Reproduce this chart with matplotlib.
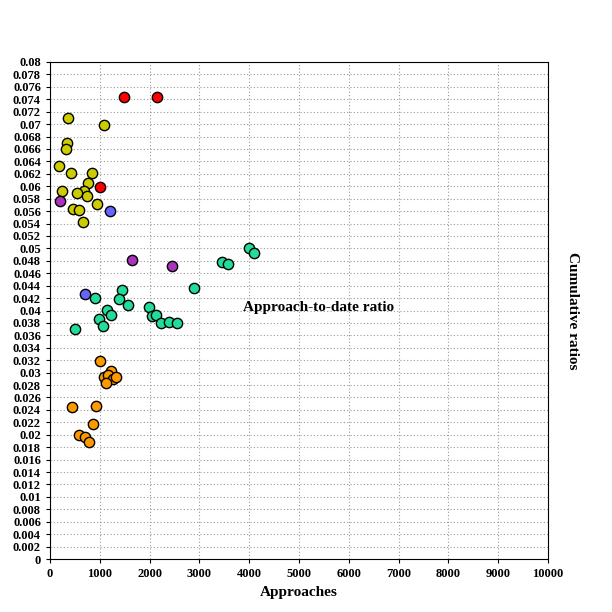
import matplotlib
matplotlib.use("Agg")
import matplotlib.pyplot as plt
import numpy as np

red_x = [1486, 2149, 1004]
red_y = [0.0744, 0.0744, 0.0599]
yel_x = [368, 1091, 347, 315, 174, 428, 850, 770, 234, 683, 535, 750, 944, 468, 589, 656]
yel_y = [0.0710, 0.0699, 0.0669, 0.0660, 0.0632, 0.0621, 0.0621, 0.0606, 0.0593, 0.0593, 0.0589, 0.0584, 0.0572, 0.0564, 0.0561, 0.0542]
pur_x = [201, 1640, 2456]
pur_y = [0.0576, 0.0481, 0.0471]
blu_x = [1211, 703]
blu_y = [0.0560, 0.0427]
teal_x = [4003, 4103, 3447, 3581, 2885, 1452, 904, 1379, 1560, 1988, 1138, 1218, 2054, 2135, 977, 2236, 2383, 2544, 1064, 509]
teal_y = [0.0500, 0.0492, 0.0478, 0.0475, 0.0437, 0.0433, 0.0420, 0.0419, 0.0409, 0.0405, 0.0401, 0.0393, 0.0391, 0.0392, 0.0387, 0.0380, 0.0382, 0.0380, 0.0375, 0.0370]
ora_x = [1004, 1218, 1084, 1171, 1258, 1325, 1124, 448, 930, 857, 582, 703, 783]
ora_y = [0.0318, 0.0302, 0.0293, 0.0296, 0.0290, 0.0293, 0.0283, 0.0245, 0.0246, 0.0218, 0.0200, 0.0197, 0.0188]

plt.rcParams['font.family'] = ['Liberation Serif', 'DejaVu Serif']
fig = plt.figure(figsize=(6.12, 6.12), dpi=100)
ax = fig.add_axes([50/612, 1-559/612, 498/612, 497/612])
for xs, ys, c in [(red_x, red_y, '#ff0000'), (yel_x, yel_y, '#cccc00'), (pur_x, pur_y, '#aa33bb'),
                  (blu_x, blu_y, '#6666ff'), (teal_x, teal_y, '#22dd99'), (ora_x, ora_y, '#ff9900')]:
    ax.scatter(xs, ys, s=55, c=c, edgecolors='black', linewidths=1.0, zorder=3)
ax.set_xlim(0, 10000)
ax.set_ylim(0, 0.08)
ax.set_xticks(np.arange(0, 10001, 1000))
yt = np.round(np.arange(0, 0.0801, 0.002), 3)
ax.set_yticks(yt)
ax.set_yticklabels(['0' if v == 0 else f'{v:g}' for v in yt])
ax.grid(True, color='#999999', linestyle=(0, (1, 2)), linewidth=0.8)
ax.set_axisbelow(True)
for lab in ax.get_xticklabels() + ax.get_yticklabels():
    lab.set_fontweight('bold'); lab.set_fontsize(9)
ax.tick_params(length=3)
ax.set_xlabel('Approaches', fontweight='bold', fontsize=11)
ax.yaxis.set_label_position('right')
ax.set_ylabel('Cumulative ratios', fontweight='bold', fontsize=11, rotation=-90, labelpad=22)
ax.text(5400, 0.0405, 'Approach-to-date ratio', ha='center', va='center', fontweight='bold', fontsize=11)
fig.savefig('out.png', dpi=100)
